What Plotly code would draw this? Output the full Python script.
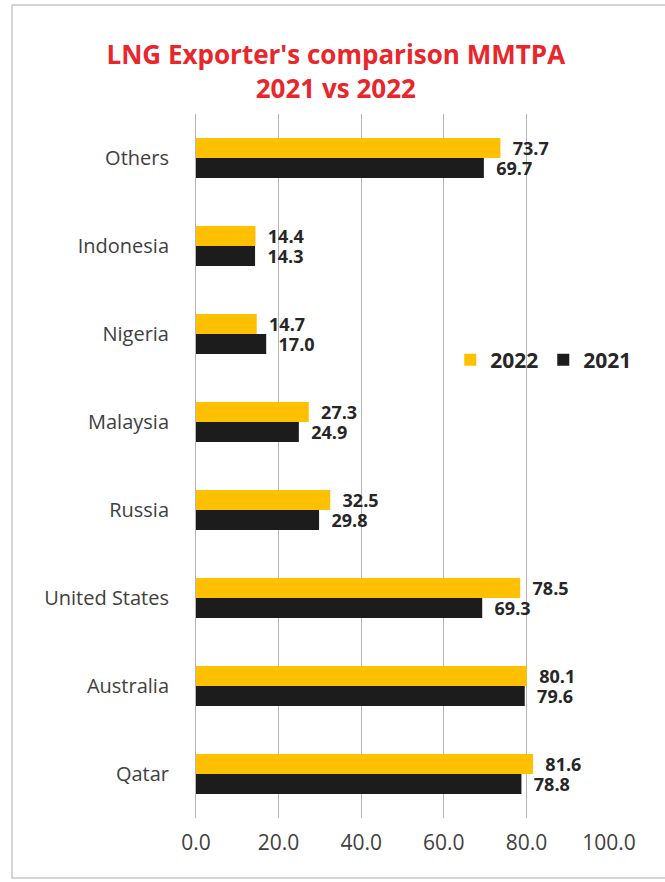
import plotly.graph_objects as go

categories = ["Others", "Indonesia", "Nigeria", "Malaysia", "Russia",
              "United States", "Australia", "Qatar"]
values_2022 = [73.7, 14.4, 14.7, 27.3, 32.5, 78.5, 80.1, 81.6]
values_2021 = [69.7, 14.3, 17.0, 24.9, 29.8, 69.3, 79.6, 78.8]
x_ticks = [0, 20, 40, 60, 80, 100]
x_tick_labels = ["0.0", "20.0", "40.0", "60.0", "80.0", "100.0"]

YELLOW = "#FFC000"
BLACK = "#1c1c1c"
FONT = "Open Sans"
label_tpl = "\u00a0\u00a0%{x:.1f}"

fig = go.Figure()
fig.add_trace(go.Bar(
    name="2022", y=categories, x=values_2022, orientation="h",
    marker=dict(color=YELLOW, line=dict(width=0)),
    texttemplate=label_tpl, textposition="outside", cliponaxis=False,
    constraintext="none",
    textfont=dict(family=FONT, size=18, color="#262626", weight="bold"),
))
fig.add_trace(go.Bar(
    name="2021", y=categories, x=values_2021, orientation="h",
    marker=dict(color=BLACK, line=dict(width=0)),
    texttemplate=label_tpl, textposition="outside", cliponaxis=False,
    constraintext="none",
    textfont=dict(family=FONT, size=18, color="#262626", weight="bold"),
))

fig.update_layout(
    width=665, height=882,
    margin=dict(l=196, r=56, t=114, b=64),
    paper_bgcolor="white", plot_bgcolor="white",
    barmode="group", bargap=0.545, bargroupgap=0,
    title=dict(
        text="LNG Exporter's comparison MMTPA<br>2021 vs 2022",
        x=0.505, xanchor="center", y=0.9274, yanchor="middle",
        font=dict(family=FONT, size=26, color="#E8262B", weight="bold"),
    ),
    legend=dict(
        orientation="h", x=0.842, xanchor="center", y=0.6506, yanchor="middle",
        bgcolor="rgba(0,0,0,0)", itemwidth=30,
        font=dict(family=FONT, size=21, color="#262626", weight="bold"),
    ),
    xaxis=dict(
        range=[0, 100], tickvals=x_ticks, ticktext=x_tick_labels,
        showgrid=True, gridcolor="#b5b5b5", gridwidth=1,
        zeroline=False, showline=False, ticks="",
        ticklabelstandoff=10,
        tickfont=dict(family=FONT, size=21, color="#404040"),
    ),
    yaxis=dict(
        categoryorder="array", categoryarray=categories, autorange="reversed",
        showline=True, linecolor="#b5b5b5", linewidth=1,
        showgrid=False, ticks="", ticklabelstandoff=22,
        tickfont=dict(family=FONT, size=20, color="#404040"),
    ),
    shapes=[dict(
        type="rect", xref="paper", yref="paper",
        x0=-0.4455, x1=1.25, y0=-0.0852, y1=1.1548,
        line=dict(color="#c8c8c8", width=1.5), fillcolor="rgba(0,0,0,0)",
        layer="below",
    )],
)

fig.write_html("out.html", config={"displayModeBar": False},
               post_script="document.body.style.margin='0';")
